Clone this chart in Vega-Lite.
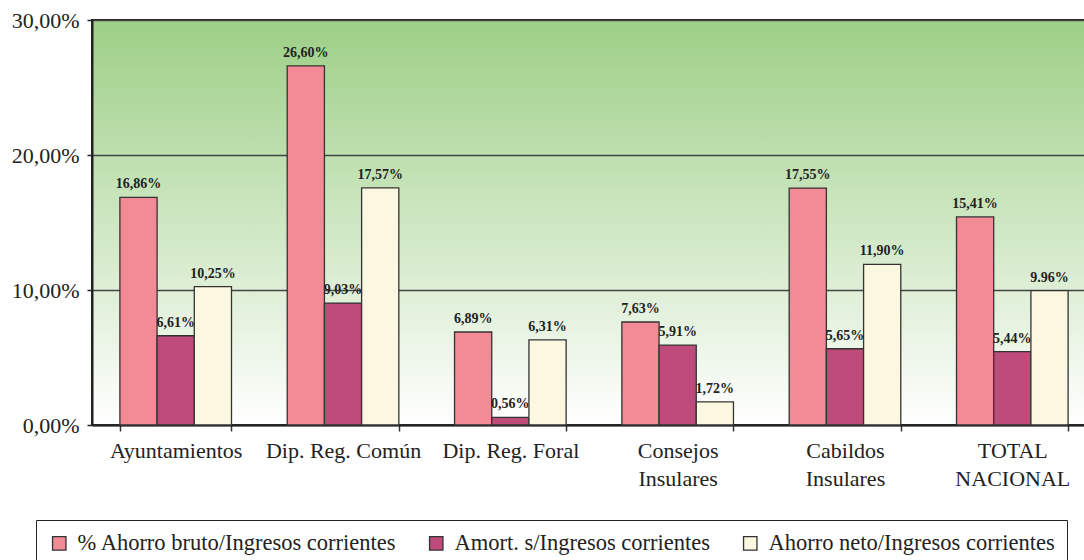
{
  "$schema": "https://vega.github.io/schema/vega-lite/v6.json",
  "width": 1004,
  "height": 405,
  "autosize": {"type": "none"},
  "padding": {"left": 92, "top": 20, "right": 0, "bottom": 135},
  "background": "white",
  "view": {
    "fill": {"gradient": "linear", "x1": 0, "y1": 0, "x2": 0, "y2": 1,
      "stops": [{"offset": 0, "color": "#9dcf86"}, {"offset": 1, "color": "#ffffff"}]},
    "stroke": "#222",
    "strokeWidth": 2
  },
  "data": {
    "values": [
      {"cat": "Ayuntamientos", "serie": "% Ahorro bruto/Ingresos corrientes", "v": 16.86, "label": "16,86%"},
      {"cat": "Ayuntamientos", "serie": "Amort. s/Ingresos corrientes", "v": 6.61, "label": "6,61%"},
      {"cat": "Ayuntamientos", "serie": "Ahorro neto/Ingresos corrientes", "v": 10.25, "label": "10,25%"},
      {"cat": "Dip. Reg. Común", "serie": "% Ahorro bruto/Ingresos corrientes", "v": 26.60, "label": "26,60%"},
      {"cat": "Dip. Reg. Común", "serie": "Amort. s/Ingresos corrientes", "v": 9.03, "label": "9,03%"},
      {"cat": "Dip. Reg. Común", "serie": "Ahorro neto/Ingresos corrientes", "v": 17.57, "label": "17,57%"},
      {"cat": "Dip. Reg. Foral", "serie": "% Ahorro bruto/Ingresos corrientes", "v": 6.89, "label": "6,89%"},
      {"cat": "Dip. Reg. Foral", "serie": "Amort. s/Ingresos corrientes", "v": 0.56, "label": "0,56%"},
      {"cat": "Dip. Reg. Foral", "serie": "Ahorro neto/Ingresos corrientes", "v": 6.31, "label": "6,31%"},
      {"cat": "Consejos Insulares", "serie": "% Ahorro bruto/Ingresos corrientes", "v": 7.63, "label": "7,63%"},
      {"cat": "Consejos Insulares", "serie": "Amort. s/Ingresos corrientes", "v": 5.91, "label": "5,91%"},
      {"cat": "Consejos Insulares", "serie": "Ahorro neto/Ingresos corrientes", "v": 1.72, "label": "1,72%"},
      {"cat": "Cabildos Insulares", "serie": "% Ahorro bruto/Ingresos corrientes", "v": 17.55, "label": "17,55%"},
      {"cat": "Cabildos Insulares", "serie": "Amort. s/Ingresos corrientes", "v": 5.65, "label": "5,65%"},
      {"cat": "Cabildos Insulares", "serie": "Ahorro neto/Ingresos corrientes", "v": 11.90, "label": "11,90%"},
      {"cat": "TOTAL NACIONAL", "serie": "% Ahorro bruto/Ingresos corrientes", "v": 15.41, "label": "15,41%"},
      {"cat": "TOTAL NACIONAL", "serie": "Amort. s/Ingresos corrientes", "v": 5.44, "label": "5,44%"},
      {"cat": "TOTAL NACIONAL", "serie": "Ahorro neto/Ingresos corrientes", "v": 9.96, "label": "9.96%"}
    ]
  },
  "encoding": {
    "x": {
      "field": "cat", "type": "nominal", "sort": null,
      "scale": {"paddingInner": 0.333, "paddingOuter": 0.1667},
      "axis": {
        "title": null, "labelAngle": 0, "tickBand": "extent",
        "domainColor": "#222", "domainWidth": 2,
        "tickColor": "#333", "tickSize": 6, "tickWidth": 1.5,
        "labelFont": "Liberation Serif", "labelFontSize": 22, "labelColor": "#222",
        "labelPadding": 9, "labelLineHeight": 28, "labelBaseline": "top",
        "labelExpr": "indexof(datum.label, 'Dip') == 0 ? datum.label : split(datum.label, ' ')"
      }
    },
    "xOffset": {
      "field": "serie", "type": "nominal", "sort": null,
      "scale": {"domain": ["% Ahorro bruto/Ingresos corrientes", "Amort. s/Ingresos corrientes", "Ahorro neto/Ingresos corrientes"], "paddingInner": 0, "paddingOuter": 0}
    },
    "y": {
      "field": "v", "type": "quantitative",
      "scale": {"domain": [0, 30], "nice": false},
      "axis": {
        "title": null, "values": [0, 10, 20, 30],
        "labelExpr": "replace(format(datum.value, '.2f'), '.', ',') + '%'",
        "domainColor": "#222", "domainWidth": 2,
        "tickColor": "#222", "tickSize": 5, "tickWidth": 1.5,
        "labelFont": "Liberation Serif", "labelFontSize": 22, "labelColor": "#222",
        "labelPadding": 8,
        "grid": true, "gridColor": "#444", "gridWidth": 1.5
      }
    }
  },
  "layer": [
    {
      "mark": {"type": "bar", "stroke": "#333", "strokeWidth": 1.3},
      "encoding": {
        "color": {
          "field": "serie", "type": "nominal",
          "scale": {
            "domain": ["% Ahorro bruto/Ingresos corrientes", "Amort. s/Ingresos corrientes", "Ahorro neto/Ingresos corrientes"],
            "range": ["#f28b95", "#bf4b7b", "#fcf7e0"]
          },
          "legend": {
            "title": null, "orient": "none", "direction": "horizontal",
            "legendX": -56, "legendY": 500,
            "strokeColor": "#222", "fillColor": "white",
            "padding": 12, "columnPadding": 28,
            "symbolType": "square", "symbolSize": 180,
            "symbolStrokeColor": "#333", "symbolStrokeWidth": 1.3, "symbolOpacity": 1,
            "labelFont": "Liberation Serif", "labelFontSize": 22.5, "labelColor": "#222",
            "labelOffset": 7, "labelLimit": 500
          }
        }
      }
    },
    {
      "mark": {"type": "text", "font": "Liberation Serif", "fontWeight": "bold", "fontSize": 14, "baseline": "alphabetic", "dy": -9, "color": "#222"},
      "encoding": {"text": {"field": "label"}}
    }
  ]
}
